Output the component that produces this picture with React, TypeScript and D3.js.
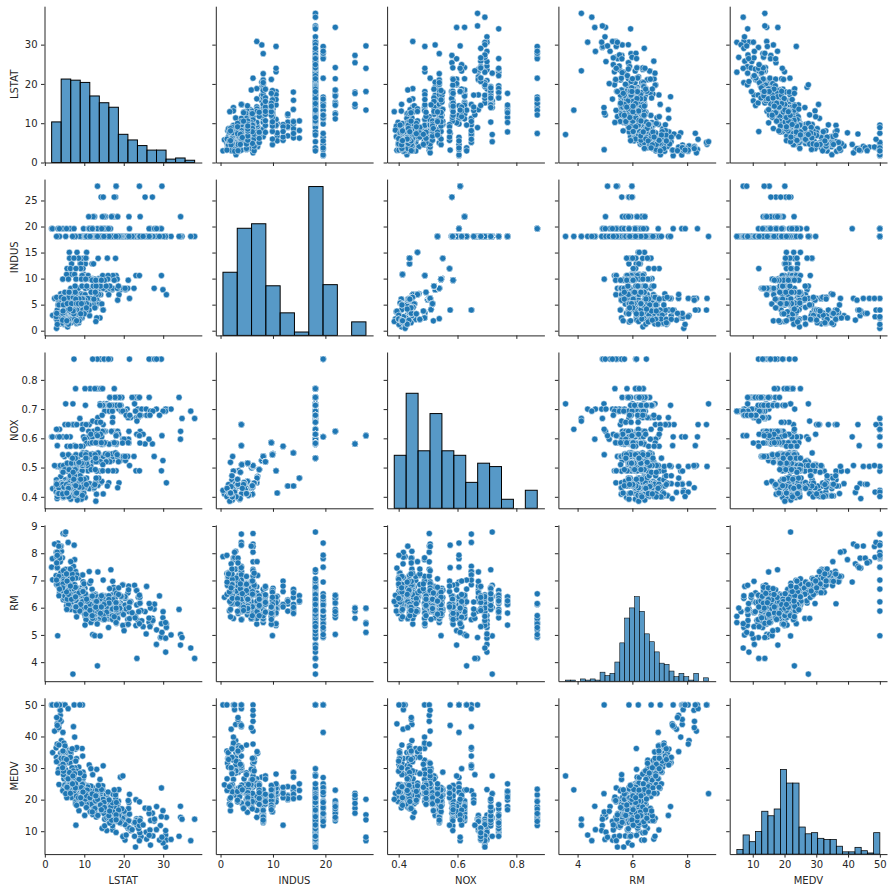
import React, { useRef, useEffect } from "react";
import * as d3 from "d3";

const NAMES = ["LSTAT", "INDUS", "NOX", "RM", "MEDV"];

const LSTAT = [
  4.98, 9.14, 4.03, 2.94, 5.33, 5.21, 12.43, 19.15, 29.93, 17.1,
  20.45, 13.27, 15.71, 8.26, 10.26, 8.47, 6.58, 14.67, 11.69, 11.28,
  21.02, 13.83, 18.72, 19.88, 16.3, 16.51, 14.81, 17.28, 12.8, 11.98,
  22.6, 13.04, 27.71, 18.35, 20.34, 9.68, 11.41, 8.77, 10.13, 4.32,
  1.98, 4.84, 5.81, 7.44, 9.55, 10.21, 14.15, 18.8, 30.81, 16.2,
  13.45, 9.43, 5.28, 8.43, 14.8, 4.81, 5.77, 3.95, 6.86, 9.22,
  13.15, 14.44, 6.73, 9.5, 8.05, 4.67, 10.24, 8.1, 13.09, 8.79,
  6.72, 9.88, 5.52, 7.54, 6.78, 8.94, 11.97, 10.27, 12.34, 9.1,
  5.29, 7.22, 6.72, 7.51, 9.62, 6.53, 12.86, 8.44, 5.5, 5.7,
  8.81, 8.2, 8.16, 6.21, 10.59, 6.65, 11.34, 4.21, 3.57, 6.19,
  9.42, 7.67, 10.63, 13.44, 12.33, 16.47, 18.66, 14.09, 12.27, 15.55,
  13.0, 10.16, 16.21, 17.09, 10.45, 15.76, 12.04, 10.3, 15.37, 13.61,
  14.37, 14.27, 17.93, 25.41, 17.58, 14.81, 27.26, 17.19, 15.39, 18.34,
  12.6, 12.26, 11.12, 15.03, 17.31, 16.96, 16.9, 14.59, 21.32, 18.46,
  24.16, 34.41, 26.82, 26.42, 29.29, 27.8, 16.65, 29.53, 28.32, 21.45,
  14.1, 13.28, 12.12, 15.79, 15.12, 15.02, 16.14, 4.59, 6.43, 7.39,
  5.5, 1.73, 1.92, 3.32, 11.64, 9.81, 3.7, 12.14, 11.1, 11.32,
  14.43, 12.03, 14.69, 9.04, 9.64, 5.33, 10.11, 6.29, 6.92, 5.04,
  7.56, 9.45, 4.82, 5.68, 13.98, 13.15, 4.45, 6.68, 4.56, 5.39,
  5.1, 4.69, 2.87, 5.03, 4.38, 2.97, 4.08, 8.61, 6.62, 4.56,
  4.45, 7.43, 3.11, 3.81, 2.88, 10.87, 10.97, 18.06, 14.66, 23.09,
  17.27, 23.98, 16.03, 9.38, 29.55, 9.47, 13.51, 9.69, 17.92, 10.5,
  9.71, 21.46, 9.93, 7.6, 4.14, 4.63, 3.13, 6.36, 3.92, 3.76,
  11.65, 5.25, 2.47, 3.95, 8.05, 10.88, 9.54, 4.73, 6.36, 7.37,
  11.38, 12.4, 11.22, 5.19, 12.5, 18.46, 9.16, 10.15, 9.52, 6.56,
  5.9, 3.59, 3.53, 3.54, 6.57, 9.25, 3.11, 5.12, 7.79, 6.9,
  9.59, 7.26, 5.91, 11.25, 8.1, 10.45, 14.79, 7.44, 3.16, 13.65,
  13.0, 6.59, 7.73, 6.58, 3.53, 2.98, 6.05, 4.16, 7.19, 4.85,
  3.76, 4.59, 3.01, 3.16, 7.85, 8.23, 12.93, 7.14, 7.6, 9.51,
  3.33, 3.56, 4.7, 8.58, 10.4, 6.27, 7.39, 15.84, 4.97, 4.74,
  6.07, 9.5, 8.67, 4.86, 6.93, 8.93, 6.47, 7.53, 4.54, 9.97,
  12.64, 5.98, 11.72, 7.9, 9.28, 11.5, 18.33, 15.94, 10.36, 12.73,
  7.2, 6.87, 7.7, 11.74, 6.12, 5.08, 6.15, 12.79, 9.97, 7.34,
  9.09, 12.43, 7.83, 5.68, 6.75, 8.01, 9.8, 10.56, 8.51, 9.74,
  9.29, 5.49, 8.65, 7.18, 4.61, 10.53, 12.67, 6.36, 5.99, 5.89,
  5.98, 5.49, 7.79, 4.5, 8.05, 5.57, 17.6, 13.27, 11.48, 12.67,
  7.79, 14.19, 10.19, 14.64, 5.29, 7.12, 14.0, 13.33, 3.26, 3.73,
  2.96, 9.53, 8.88, 34.77, 37.97, 13.44, 23.24, 21.24, 23.69, 21.78,
  17.21, 21.08, 23.6, 24.56, 30.63, 30.81, 28.28, 31.99, 30.62, 20.85,
  17.11, 18.76, 25.68, 15.17, 16.35, 17.12, 19.37, 19.92, 30.59, 29.97,
  26.77, 20.32, 20.31, 19.77, 27.38, 22.98, 23.34, 12.13, 26.4, 19.78,
  10.11, 21.22, 34.37, 20.08, 36.98, 29.05, 25.79, 26.64, 20.62, 22.74,
  15.02, 15.7, 14.1, 23.29, 17.16, 24.39, 15.69, 14.52, 21.52, 24.08,
  17.64, 19.69, 12.03, 16.22, 15.17, 23.27, 18.05, 26.45, 34.02, 22.88,
  22.11, 19.52, 16.59, 18.85, 23.79, 23.98, 17.79, 16.44, 18.13, 19.31,
  17.44, 17.73, 17.27, 16.74, 18.71, 18.13, 19.01, 16.94, 16.23, 14.7,
  16.42, 14.65, 13.99, 10.29, 13.22, 14.13, 17.15, 21.32, 18.13, 14.76,
  16.29, 12.87, 14.36, 11.66, 18.14, 24.1, 18.68, 24.91, 18.03, 13.11,
  10.74, 7.74, 7.01, 10.42, 13.34, 10.58, 14.98, 11.45, 18.06, 23.97,
  29.68, 18.07, 13.35, 12.01, 13.59, 17.6, 21.14, 14.1, 12.92, 15.1,
  14.33, 9.67, 9.08, 5.64, 6.48, 7.88,
];

const INDUS = [
  2.31, 7.07, 7.07, 2.18, 2.18, 2.18, 7.87, 7.87, 7.87, 7.87,
  7.87, 7.87, 7.87, 8.14, 8.14, 8.14, 8.14, 8.14, 8.14, 8.14,
  8.14, 8.14, 8.14, 8.14, 8.14, 8.14, 8.14, 8.14, 8.14, 8.14,
  8.14, 8.14, 8.14, 8.14, 8.14, 5.96, 5.96, 5.96, 5.96, 2.95,
  2.95, 6.91, 6.91, 6.91, 6.91, 6.91, 6.91, 6.91, 6.91, 6.91,
  5.64, 5.64, 5.64, 5.64, 4.0, 1.22, 0.74, 1.32, 5.13, 5.13,
  5.13, 5.13, 5.13, 5.13, 1.38, 3.37, 3.37, 6.07, 6.07, 6.07,
  10.81, 10.81, 10.81, 10.81, 12.83, 12.83, 12.83, 12.83, 12.83, 12.83,
  4.86, 4.86, 4.86, 4.86, 4.49, 4.49, 4.49, 4.49, 3.41, 3.41,
  3.41, 3.41, 15.04, 15.04, 15.04, 2.89, 2.89, 2.89, 2.89, 2.89,
  8.56, 8.56, 8.56, 8.56, 8.56, 8.56, 8.56, 8.56, 8.56, 8.56,
  8.56, 10.01, 10.01, 10.01, 10.01, 10.01, 10.01, 10.01, 10.01, 10.01,
  25.65, 25.65, 25.65, 25.65, 25.65, 25.65, 25.65, 21.89, 21.89, 21.89,
  21.89, 21.89, 21.89, 21.89, 21.89, 21.89, 21.89, 21.89, 21.89, 21.89,
  21.89, 21.89, 19.58, 19.58, 19.58, 19.58, 19.58, 19.58, 19.58, 19.58,
  19.58, 19.58, 19.58, 19.58, 19.58, 19.58, 19.58, 19.58, 19.58, 19.58,
  19.58, 19.58, 19.58, 19.58, 19.58, 19.58, 19.58, 19.58, 19.58, 19.58,
  19.58, 19.58, 4.05, 4.05, 4.05, 4.05, 4.05, 4.05, 4.05, 2.46,
  2.46, 2.46, 2.46, 2.46, 2.46, 2.46, 2.46, 3.44, 3.44, 3.44,
  3.44, 3.44, 3.44, 2.93, 2.93, 0.46, 1.52, 1.52, 1.52, 1.47,
  1.47, 2.03, 2.03, 2.68, 2.68, 10.59, 10.59, 10.59, 10.59, 10.59,
  10.59, 10.59, 10.59, 10.59, 10.59, 10.59, 13.89, 13.89, 13.89, 13.89,
  6.2, 6.2, 6.2, 6.2, 6.2, 6.2, 6.2, 6.2, 6.2, 6.2,
  6.2, 6.2, 6.2, 6.2, 6.2, 6.2, 6.2, 6.2, 4.93, 4.93,
  4.93, 4.93, 4.93, 4.93, 5.86, 5.86, 5.86, 5.86, 5.86, 5.86,
  5.86, 5.86, 5.86, 5.86, 3.64, 3.64, 3.75, 3.97, 3.97, 3.97,
  3.97, 3.97, 3.97, 3.97, 3.97, 3.97, 3.97, 3.97, 3.97, 6.96,
  6.96, 6.96, 6.96, 6.96, 6.41, 6.41, 6.41, 6.41, 6.41, 3.33,
  3.33, 3.33, 3.33, 1.21, 2.97, 2.25, 1.76, 5.32, 5.32, 5.32,
  4.95, 4.95, 4.95, 13.92, 13.92, 13.92, 13.92, 13.92, 2.24, 2.24,
  2.24, 6.09, 6.09, 6.09, 2.18, 2.18, 2.18, 2.18, 9.9, 9.9,
  9.9, 9.9, 9.9, 9.9, 9.9, 9.9, 9.9, 9.9, 9.9, 9.9,
  7.38, 7.38, 7.38, 7.38, 7.38, 7.38, 7.38, 7.38, 3.24, 3.24,
  3.24, 6.06, 6.06, 5.19, 5.19, 5.19, 5.19, 5.19, 5.19, 5.19,
  5.19, 1.52, 1.89, 3.78, 3.78, 4.39, 4.39, 4.15, 2.01, 1.25,
  1.25, 1.69, 1.69, 2.02, 1.91, 1.91, 18.1, 18.1, 18.1, 18.1,
  18.1, 18.1, 18.1, 18.1, 18.1, 18.1, 18.1, 18.1, 18.1, 18.1,
  18.1, 18.1, 18.1, 18.1, 18.1, 18.1, 18.1, 18.1, 18.1, 18.1,
  18.1, 18.1, 18.1, 18.1, 18.1, 18.1, 18.1, 18.1, 18.1, 18.1,
  18.1, 18.1, 18.1, 18.1, 18.1, 18.1, 18.1, 18.1, 18.1, 18.1,
  18.1, 18.1, 18.1, 18.1, 18.1, 18.1, 18.1, 18.1, 18.1, 18.1,
  18.1, 18.1, 18.1, 18.1, 18.1, 18.1, 18.1, 18.1, 18.1, 18.1,
  18.1, 18.1, 18.1, 18.1, 18.1, 18.1, 18.1, 18.1, 18.1, 18.1,
  18.1, 18.1, 18.1, 18.1, 18.1, 18.1, 18.1, 18.1, 18.1, 18.1,
  18.1, 18.1, 18.1, 18.1, 18.1, 18.1, 18.1, 18.1, 18.1, 18.1,
  18.1, 18.1, 18.1, 18.1, 18.1, 18.1, 18.1, 18.1, 18.1, 18.1,
  18.1, 18.1, 18.1, 18.1, 18.1, 18.1, 18.1, 18.1, 18.1, 18.1,
  18.1, 18.1, 18.1, 18.1, 18.1, 18.1, 18.1, 18.1, 18.1, 18.1,
  18.1, 18.1, 18.1, 18.1, 18.1, 18.1, 18.1, 18.1, 27.74, 27.74,
  27.74, 27.74, 27.74, 9.69, 9.69, 9.69, 9.69, 9.69, 9.69, 9.69,
  9.69, 11.93, 11.93, 11.93, 11.93, 11.93,
];

const NOX = [
  0.538, 0.469, 0.469, 0.458, 0.458, 0.458, 0.524, 0.524, 0.524, 0.524,
  0.524, 0.524, 0.524, 0.538, 0.538, 0.538, 0.538, 0.538, 0.538, 0.538,
  0.538, 0.538, 0.538, 0.538, 0.538, 0.538, 0.538, 0.538, 0.538, 0.538,
  0.538, 0.538, 0.538, 0.538, 0.538, 0.499, 0.499, 0.499, 0.499, 0.428,
  0.428, 0.448, 0.448, 0.448, 0.448, 0.448, 0.448, 0.448, 0.448, 0.448,
  0.439, 0.439, 0.439, 0.439, 0.41, 0.403, 0.41, 0.411, 0.453, 0.453,
  0.453, 0.453, 0.453, 0.453, 0.4161, 0.398, 0.398, 0.409, 0.409, 0.409,
  0.413, 0.413, 0.413, 0.413, 0.437, 0.437, 0.437, 0.437, 0.437, 0.437,
  0.426, 0.426, 0.426, 0.426, 0.449, 0.449, 0.449, 0.449, 0.489, 0.489,
  0.489, 0.489, 0.464, 0.464, 0.464, 0.445, 0.445, 0.445, 0.445, 0.445,
  0.52, 0.52, 0.52, 0.52, 0.52, 0.52, 0.52, 0.52, 0.52, 0.52,
  0.52, 0.547, 0.547, 0.547, 0.547, 0.547, 0.547, 0.547, 0.547, 0.547,
  0.581, 0.581, 0.581, 0.581, 0.581, 0.581, 0.581, 0.624, 0.624, 0.624,
  0.624, 0.624, 0.624, 0.624, 0.624, 0.624, 0.624, 0.624, 0.624, 0.624,
  0.624, 0.624, 0.871, 0.871, 0.871, 0.871, 0.871, 0.871, 0.871, 0.871,
  0.871, 0.871, 0.871, 0.871, 0.871, 0.871, 0.871, 0.605, 0.605, 0.871,
  0.605, 0.605, 0.605, 0.605, 0.605, 0.605, 0.605, 0.605, 0.605, 0.605,
  0.605, 0.605, 0.51, 0.51, 0.51, 0.51, 0.51, 0.51, 0.51, 0.488,
  0.488, 0.488, 0.488, 0.488, 0.488, 0.488, 0.488, 0.437, 0.437, 0.437,
  0.437, 0.437, 0.437, 0.401, 0.401, 0.422, 0.404, 0.404, 0.404, 0.403,
  0.403, 0.415, 0.415, 0.4161, 0.4161, 0.489, 0.489, 0.489, 0.489, 0.489,
  0.489, 0.489, 0.489, 0.489, 0.489, 0.489, 0.55, 0.55, 0.55, 0.55,
  0.507, 0.507, 0.507, 0.507, 0.504, 0.504, 0.504, 0.504, 0.504, 0.504,
  0.504, 0.504, 0.507, 0.507, 0.507, 0.507, 0.507, 0.507, 0.428, 0.428,
  0.428, 0.428, 0.428, 0.428, 0.431, 0.431, 0.431, 0.431, 0.431, 0.431,
  0.431, 0.431, 0.431, 0.431, 0.392, 0.392, 0.394, 0.647, 0.647, 0.647,
  0.647, 0.647, 0.647, 0.647, 0.647, 0.647, 0.647, 0.575, 0.575, 0.464,
  0.464, 0.464, 0.464, 0.464, 0.447, 0.447, 0.447, 0.447, 0.447, 0.4429,
  0.4429, 0.4429, 0.4429, 0.401, 0.4, 0.389, 0.385, 0.405, 0.405, 0.405,
  0.411, 0.411, 0.411, 0.437, 0.437, 0.437, 0.437, 0.437, 0.4, 0.4,
  0.4, 0.433, 0.433, 0.433, 0.472, 0.472, 0.472, 0.472, 0.544, 0.544,
  0.544, 0.544, 0.544, 0.544, 0.544, 0.544, 0.544, 0.544, 0.544, 0.544,
  0.493, 0.493, 0.493, 0.493, 0.493, 0.493, 0.493, 0.493, 0.46, 0.46,
  0.46, 0.4379, 0.4379, 0.515, 0.515, 0.515, 0.515, 0.515, 0.515, 0.515,
  0.515, 0.442, 0.518, 0.484, 0.484, 0.442, 0.442, 0.429, 0.435, 0.429,
  0.429, 0.411, 0.411, 0.41, 0.413, 0.413, 0.77, 0.77, 0.77, 0.77,
  0.77, 0.77, 0.77, 0.77, 0.718, 0.718, 0.718, 0.631, 0.631, 0.631,
  0.631, 0.631, 0.668, 0.668, 0.668, 0.671, 0.671, 0.671, 0.671, 0.671,
  0.671, 0.671, 0.7, 0.7, 0.7, 0.7, 0.7, 0.7, 0.7, 0.7,
  0.7, 0.7, 0.7, 0.693, 0.693, 0.693, 0.693, 0.693, 0.693, 0.693,
  0.693, 0.693, 0.693, 0.693, 0.693, 0.693, 0.659, 0.659, 0.597, 0.597,
  0.597, 0.597, 0.597, 0.597, 0.693, 0.679, 0.679, 0.679, 0.679, 0.718,
  0.718, 0.718, 0.614, 0.614, 0.584, 0.679, 0.584, 0.679, 0.679, 0.679,
  0.584, 0.584, 0.584, 0.713, 0.713, 0.74, 0.74, 0.74, 0.74, 0.74,
  0.74, 0.74, 0.74, 0.74, 0.74, 0.74, 0.74, 0.74, 0.713, 0.713,
  0.713, 0.713, 0.713, 0.713, 0.713, 0.713, 0.713, 0.713, 0.713, 0.713,
  0.713, 0.713, 0.713, 0.713, 0.655, 0.655, 0.655, 0.584, 0.58, 0.58,
  0.58, 0.532, 0.58, 0.614, 0.584, 0.584, 0.614, 0.614, 0.614, 0.614,
  0.532, 0.532, 0.532, 0.532, 0.583, 0.583, 0.583, 0.583, 0.609, 0.609,
  0.609, 0.609, 0.609, 0.585, 0.585, 0.585, 0.585, 0.585, 0.585, 0.585,
  0.585, 0.573, 0.573, 0.573, 0.573, 0.573,
];

const RM = [
  6.575, 6.421, 7.185, 6.998, 7.147, 6.43, 6.012, 6.172, 5.631, 6.004,
  6.377, 6.009, 5.889, 5.949, 6.096, 5.834, 5.935, 5.99, 5.456, 5.727,
  5.57, 5.965, 6.142, 5.813, 5.924, 5.599, 5.813, 6.047, 6.495, 6.674,
  5.713, 6.072, 5.95, 5.701, 6.096, 5.933, 5.841, 5.85, 5.966, 6.595,
  7.024, 6.77, 6.169, 6.211, 6.069, 5.682, 5.786, 6.03, 5.399, 5.602,
  5.963, 6.115, 6.511, 5.998, 5.888, 7.249, 6.383, 6.816, 6.145, 5.927,
  5.741, 5.966, 6.456, 6.762, 7.104, 6.29, 5.787, 5.878, 5.594, 5.885,
  6.417, 5.961, 6.065, 6.245, 6.273, 6.286, 6.279, 6.14, 6.232, 5.874,
  6.727, 6.619, 6.302, 6.167, 6.389, 6.63, 6.015, 6.121, 7.007, 7.079,
  6.417, 6.405, 6.442, 6.211, 6.249, 6.625, 6.163, 8.069, 7.82, 7.416,
  6.727, 6.781, 6.405, 6.137, 6.167, 5.851, 5.836, 6.127, 6.474, 6.229,
  6.195, 6.715, 5.913, 6.092, 6.254, 5.928, 6.176, 6.021, 5.872, 5.731,
  5.87, 6.004, 5.961, 5.856, 5.879, 5.986, 5.613, 5.693, 6.431, 5.637,
  6.458, 6.326, 6.372, 5.822, 5.757, 6.335, 5.942, 6.454, 5.857, 6.151,
  6.174, 5.019, 5.403, 5.468, 4.903, 6.13, 5.628, 4.926, 5.186, 5.597,
  6.122, 5.404, 5.012, 5.709, 6.129, 6.152, 5.272, 6.943, 6.066, 6.51,
  6.25, 7.489, 7.802, 8.375, 5.854, 6.101, 7.929, 5.877, 6.319, 6.402,
  5.875, 5.88, 5.572, 6.416, 5.859, 6.546, 6.02, 6.315, 6.86, 6.98,
  7.765, 6.144, 7.155, 6.563, 5.604, 6.153, 7.831, 6.782, 6.556, 7.185,
  6.951, 6.739, 7.178, 6.8, 6.604, 7.875, 7.287, 7.107, 7.274, 6.975,
  7.135, 6.162, 7.61, 7.853, 8.034, 5.891, 6.326, 5.783, 6.064, 5.344,
  5.96, 5.404, 5.807, 6.375, 5.412, 6.182, 5.888, 6.642, 5.951, 6.373,
  6.951, 6.164, 6.879, 6.618, 8.266, 8.725, 8.04, 7.163, 7.686, 6.552,
  5.981, 7.412, 8.337, 8.247, 6.726, 6.086, 6.631, 7.358, 6.481, 6.606,
  6.897, 6.095, 6.358, 6.393, 5.593, 5.605, 6.108, 6.226, 6.433, 6.718,
  6.487, 6.438, 6.957, 8.259, 6.108, 5.876, 7.454, 8.704, 7.333, 6.842,
  7.203, 7.52, 8.398, 7.327, 7.206, 5.56, 7.014, 8.297, 7.47, 5.92,
  5.856, 6.24, 6.538, 7.691, 6.758, 6.854, 7.267, 6.826, 6.482, 6.812,
  7.82, 6.968, 7.645, 7.923, 7.088, 6.453, 6.23, 6.209, 6.315, 6.565,
  6.861, 7.148, 6.63, 6.127, 6.009, 6.678, 6.549, 5.79, 6.345, 7.041,
  6.871, 6.59, 6.495, 6.982, 7.236, 6.616, 7.42, 6.849, 6.635, 5.972,
  4.973, 6.122, 6.023, 6.266, 6.567, 5.705, 5.914, 5.782, 6.382, 6.113,
  6.426, 6.376, 6.041, 5.708, 6.415, 6.431, 6.312, 6.083, 5.868, 6.333,
  6.144, 5.706, 6.031, 6.316, 6.31, 6.037, 5.869, 5.895, 6.059, 5.985,
  5.968, 7.241, 6.54, 6.696, 6.874, 6.014, 5.898, 6.516, 6.635, 6.939,
  6.49, 6.579, 5.884, 6.728, 5.663, 5.936, 6.212, 6.395, 6.127, 6.112,
  6.398, 6.251, 5.362, 5.803, 8.78, 3.561, 4.963, 3.863, 4.97, 6.683,
  7.016, 6.216, 5.875, 4.906, 4.138, 7.313, 6.649, 6.794, 6.38, 6.223,
  6.968, 6.545, 5.536, 5.52, 4.368, 5.277, 4.652, 5.0, 4.88, 5.39,
  5.713, 6.051, 5.036, 6.193, 5.887, 6.471, 6.405, 5.747, 5.453, 5.852,
  5.987, 6.343, 6.404, 5.349, 5.531, 5.683, 4.138, 5.608, 5.617, 6.852,
  5.757, 6.657, 4.628, 5.155, 4.519, 6.434, 6.782, 5.304, 5.957, 6.824,
  6.411, 6.006, 5.648, 6.103, 5.565, 5.896, 5.837, 6.202, 6.193, 6.38,
  6.348, 6.833, 6.425, 6.436, 6.208, 6.629, 6.461, 6.152, 5.935, 5.627,
  5.818, 6.406, 6.219, 6.485, 5.854, 6.459, 6.341, 6.251, 6.185, 6.417,
  6.749, 6.655, 6.297, 7.393, 6.728, 6.525, 5.976, 5.936, 6.301, 6.081,
  6.701, 6.376, 6.317, 6.513, 6.209, 5.759, 5.952, 6.003, 5.926, 5.713,
  6.167, 6.229, 6.437, 6.98, 5.427, 6.162, 6.484, 5.304, 6.185, 6.229,
  6.242, 6.75, 7.061, 5.762, 5.871, 6.312, 6.114, 5.905, 5.454, 5.414,
  5.093, 5.983, 5.983, 5.707, 5.926, 5.67, 5.39, 5.794, 6.019, 5.569,
  6.027, 6.593, 6.12, 6.976, 6.794, 6.03,
];

const MEDV = [
  24.0, 21.6, 34.7, 33.4, 36.2, 28.7, 22.9, 27.1, 16.5, 18.9,
  15.0, 18.9, 21.7, 20.4, 18.2, 19.9, 23.1, 17.5, 20.2, 18.2,
  13.6, 19.6, 15.2, 14.5, 15.6, 13.9, 16.6, 14.8, 18.4, 21.0,
  12.7, 14.5, 13.2, 13.1, 13.5, 18.9, 20.0, 21.0, 24.7, 30.8,
  34.9, 26.6, 25.3, 24.7, 21.2, 19.3, 20.0, 16.6, 14.4, 19.4,
  19.7, 20.5, 25.0, 23.4, 18.9, 35.4, 24.7, 31.6, 23.3, 19.6,
  18.7, 16.0, 22.2, 25.0, 33.0, 23.5, 19.4, 22.0, 17.4, 20.9,
  24.2, 21.7, 22.8, 23.4, 24.1, 21.4, 20.0, 20.8, 21.2, 20.3,
  28.0, 23.9, 24.8, 22.9, 23.9, 26.6, 22.5, 22.2, 23.6, 28.7,
  22.6, 22.0, 22.9, 25.0, 20.6, 28.4, 21.4, 38.7, 43.8, 33.2,
  27.5, 26.5, 18.6, 19.3, 20.1, 19.5, 19.5, 20.4, 19.8, 19.4,
  21.7, 22.8, 18.8, 18.7, 18.5, 18.3, 21.2, 19.2, 20.4, 19.3,
  22.0, 20.3, 20.5, 17.3, 18.8, 21.4, 15.7, 16.2, 18.0, 14.3,
  19.2, 19.6, 23.0, 18.4, 15.6, 18.1, 17.4, 17.1, 13.3, 17.8,
  14.0, 14.4, 13.4, 15.6, 11.8, 13.8, 15.6, 14.6, 17.8, 15.4,
  21.5, 19.6, 15.3, 19.4, 17.0, 15.6, 13.1, 41.3, 24.3, 23.3,
  27.0, 50.0, 50.0, 50.0, 22.7, 25.0, 50.0, 23.8, 23.8, 22.3,
  17.4, 19.1, 23.1, 23.6, 22.6, 29.4, 23.2, 24.6, 29.9, 37.2,
  39.8, 36.2, 37.9, 32.5, 26.4, 29.6, 50.0, 32.0, 29.8, 34.9,
  37.0, 30.5, 36.4, 31.1, 29.1, 50.0, 33.3, 30.3, 34.6, 34.9,
  32.9, 24.1, 42.3, 48.5, 50.0, 22.6, 24.4, 22.5, 24.4, 20.0,
  21.7, 19.3, 22.4, 28.1, 23.7, 25.0, 23.3, 28.7, 21.5, 23.0,
  26.7, 21.7, 27.5, 30.1, 44.8, 50.0, 37.6, 31.6, 46.7, 31.5,
  24.3, 31.7, 41.7, 48.3, 29.0, 24.0, 25.1, 31.5, 23.7, 23.3,
  22.0, 20.1, 22.2, 23.7, 17.6, 18.5, 24.3, 20.5, 24.5, 26.2,
  24.4, 24.8, 29.6, 42.8, 21.9, 20.9, 44.0, 50.0, 36.0, 30.1,
  33.8, 43.1, 48.8, 31.0, 36.5, 22.8, 30.7, 50.0, 43.5, 20.7,
  21.1, 25.2, 24.4, 35.2, 32.4, 32.0, 33.2, 33.1, 29.1, 35.1,
  45.4, 35.4, 46.0, 50.0, 32.2, 22.0, 20.1, 23.2, 22.3, 24.8,
  28.5, 37.3, 27.9, 23.9, 21.7, 28.6, 27.1, 20.3, 22.5, 29.0,
  24.8, 22.0, 26.4, 33.1, 36.1, 28.4, 33.4, 28.2, 22.8, 20.3,
  16.1, 22.1, 19.4, 21.6, 23.8, 16.2, 17.8, 19.8, 23.1, 21.0,
  23.8, 23.1, 20.4, 18.5, 25.0, 24.6, 23.0, 22.2, 19.3, 22.6,
  19.8, 17.1, 19.4, 22.2, 20.7, 21.1, 19.5, 18.5, 20.6, 19.0,
  18.7, 32.7, 16.5, 23.9, 31.2, 17.5, 17.2, 23.1, 24.5, 26.6,
  22.9, 24.1, 18.6, 30.1, 18.2, 20.6, 17.8, 21.7, 22.7, 22.6,
  25.0, 19.9, 20.8, 16.8, 21.9, 27.5, 21.9, 23.1, 50.0, 50.0,
  50.0, 50.0, 50.0, 13.8, 13.8, 15.0, 13.9, 13.3, 13.1, 10.2,
  10.4, 10.9, 11.3, 12.3, 8.8, 7.2, 10.5, 7.4, 10.2, 11.5,
  15.1, 23.2, 9.7, 13.8, 12.7, 13.1, 12.5, 8.5, 5.0, 6.3,
  5.6, 7.2, 12.1, 8.3, 8.5, 5.0, 11.9, 27.9, 17.2, 27.5,
  15.0, 17.2, 17.9, 16.3, 7.0, 7.2, 7.5, 10.4, 8.8, 8.4,
  16.7, 14.2, 20.8, 13.4, 11.7, 8.3, 10.2, 10.9, 11.0, 9.5,
  14.5, 14.1, 16.1, 14.3, 11.7, 13.4, 9.6, 8.7, 8.4, 12.8,
  10.5, 17.1, 18.4, 15.4, 10.8, 11.8, 14.9, 12.6, 14.1, 13.0,
  13.4, 15.2, 16.1, 17.8, 14.9, 14.1, 12.7, 13.5, 14.9, 20.0,
  16.4, 17.7, 19.5, 20.2, 21.4, 19.9, 19.0, 19.1, 19.1, 20.1,
  19.9, 19.6, 23.2, 29.8, 13.8, 13.3, 16.7, 12.0, 14.6, 21.4,
  23.0, 23.7, 25.0, 21.8, 20.6, 21.2, 19.1, 20.6, 15.2, 7.0,
  8.1, 13.6, 20.1, 21.8, 24.5, 23.1, 19.7, 18.3, 21.2, 17.5,
  16.8, 22.4, 20.6, 23.9, 22.0, 11.9,
];

const COLUMNS = [LSTAT, INDUS, NOX, RM, MEDV];

// histogram bars per variable
const BIN_COUNTS = [15, 10, 12, 29, 23];
const BAR_STROKE = [1, 1, 1, 0.55, 0.75];

const X_TICKS = [[0, 10, 20, 30], [0, 10, 20], [0.4, 0.6, 0.8], [4, 6, 8], [10, 20, 30, 40, 50]];
const Y_TICKS = [[0, 10, 20, 30], [0, 5, 10, 15, 20, 25], [0.4, 0.5, 0.6, 0.7, 0.8], [4, 5, 6, 7, 8, 9], [10, 20, 30, 40, 50]];

const PITCH_X = 171.3, PITCH_Y = 172.9;
const LEFT0 = 44.5, BOTTOM0 = 162.5;
const PANEL_W = 157.3, PANEL_H = 156.3;
const BLUE = "#1f77b4";
const INK = "#262626";
const FONT = "DejaVu Sans, sans-serif";

function paddedDomain(values: number[]): [number, number] {
  const [lo, hi] = d3.extent(values) as [number, number];
  const pad = (hi - lo) * 0.05;
  return [lo - pad, hi + pad];
}

function histogram(values: number[], n: number) {
  const [lo, hi] = d3.extent(values) as [number, number];
  const step = (hi - lo) / n;
  return d3.bin().domain([lo, hi]).thresholds(d3.range(1, n).map(k => lo + k * step))(values);
}

export default function App() {
  const svgRef = useRef<SVGSVGElement>(null);

  useEffect(() => {
    const svg = d3.select(svgRef.current);
    svg.selectAll("*").remove();

    const hists = COLUMNS.map((c, i) => histogram(c, BIN_COUNTS[i]));
    const maxCount = d3.max(hists, h => d3.max(h, b => b.length)) as number;

    COLUMNS.forEach((yValues, row) => {
      COLUMNS.forEach((xValues, col) => {
        const left = LEFT0 + col * PITCH_X;
        const bottom = BOTTOM0 + row * PITCH_Y;
        const g = svg.append("g").attr("transform", `translate(${left},${bottom - PANEL_H})`);

        const x = d3.scaleLinear().domain(paddedDomain(xValues)).range([0, PANEL_W]);
        const yDomain = paddedDomain(yValues);
        // the first row's axis stops at zero, because of the histogram under it
        if (row === 0) yDomain[0] = 0;
        const y = d3.scaleLinear().domain(yDomain).range([PANEL_H, 0]);

        if (row === col) {
          const yCount = d3.scaleLinear().domain([0, maxCount * 1.05]).range([PANEL_H, 0]);
          g.selectAll("rect")
            .data(hists[col])
            .join("rect")
            .attr("x", d => x(d.x0 as number))
            .attr("y", d => yCount(d.length))
            .attr("width", d => x(d.x1 as number) - x(d.x0 as number))
            .attr("height", d => PANEL_H - yCount(d.length))
            .attr("fill", BLUE)
            .attr("fill-opacity", 0.75)
            .attr("stroke", "#000")
            .attr("stroke-width", BAR_STROKE[col]);
        } else {
          g.selectAll("circle")
            .data(xValues.map((v, i) => [v, yValues[i]]))
            .join("circle")
            .attr("cx", d => x(d[0]))
            .attr("cy", d => y(d[1]))
            .attr("r", 3.1)
            .attr("fill", BLUE)
            .attr("stroke", "#fff")
            .attr("stroke-width", 0.5);
        }

        const xAxis = g.append("g")
          .attr("transform", `translate(0,${PANEL_H})`)
          .call(d3.axisBottom(x).tickValues(X_TICKS[col]).tickSize(3.5).tickSizeOuter(0).tickPadding(3.5)
            .tickFormat(row === 4 ? (d3.format("") as any) : () => ""));
        const yAxis = g.append("g")
          .call(d3.axisLeft(y).tickValues(Y_TICKS[row]).tickSize(3.5).tickSizeOuter(0).tickPadding(3.5)
            .tickFormat(col === 0 ? (d3.format("") as any) : () => ""));

        [xAxis, yAxis].forEach(a => {
          a.select(".domain").attr("stroke", INK);
          a.selectAll(".tick line").attr("stroke", INK);
          a.selectAll("text")
            .style("font-size", "10px")
            .style("font-family", FONT)
            .style("fill", INK);
        });

        if (row === 4) {
          g.append("text")
            .attr("x", PANEL_W / 2)
            .attr("y", PANEL_H + 30)
            .attr("text-anchor", "middle")
            .style("font-size", "10px")
            .style("font-family", FONT)
            .style("fill", INK)
            .text(NAMES[col]);
        }
        if (col === 0) {
          g.append("text")
            .attr("transform", `translate(${18 - left},${PANEL_H / 2}) rotate(-90)`)
            .attr("text-anchor", "middle")
            .style("font-size", "10px")
            .style("font-family", FONT)
            .style("fill", INK)
            .text(NAMES[row]);
        }
      });
    });
  }, []);

  return (
    <svg
      ref={svgRef}
      width={892}
      height={892}
      style={{ position: "absolute", left: 0, top: 0, background: "#fff" }}
    />
  );
}
